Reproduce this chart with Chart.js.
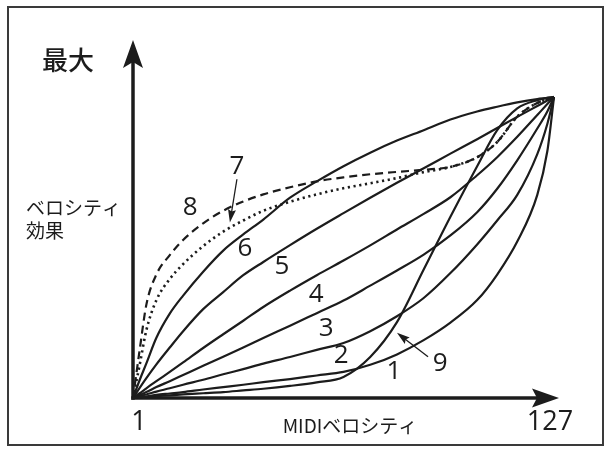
<!DOCTYPE html>
<html>
<head>
<meta charset="utf-8">
<script src="https://cdn.jsdelivr.net/npm/chart.js@4.4.0/dist/chart.umd.min.js"></script>
<style>
html,body{margin:0;padding:0;background:#fff;}
#wrap{width:607px;height:451px;position:relative;}
</style>
</head>
<body>
<div id="wrap"><canvas id="c" width="607" height="451"></canvas></div>
<script>
// MIDI velocity (input) grid
const velocity = [1, 3, 5, 8, 12, 16, 22, 28, 34, 40, 48, 56, 64, 72, 80, 88, 96, 104, 110, 116, 122, 125, 127];
// velocity effect (0 .. 127 = max) for each curve
const curve1 = [0, 0.4, 0.6, 1.3, 1.9, 2.5, 3.6, 4.6, 5.6, 6.7, 8, 9.5, 11, 14, 18.4, 24.4, 31.8, 41.3, 52.1, 66, 85.7, 104.1, 127];
const curve2 = [0, 0.8, 1.5, 2.7, 4.1, 5.6, 7.7, 10, 12.2, 14.5, 17.3, 20.3, 23.2, 28.2, 34.5, 42.2, 52.7, 64.8, 74.9, 85.7, 102.9, 115.6, 127];
const curve3 = [0, 1.3, 2.5, 4.6, 7.1, 9.7, 13.6, 17.4, 21.3, 25.3, 30.5, 35.8, 41.1, 47.4, 53.8, 60.5, 68.6, 78.4, 88.3, 100.3, 113.7, 120.9, 127];
const curve4 = [0, 2, 4.1, 7.1, 11, 15, 21.1, 26.9, 32.6, 38.4, 45.3, 51.8, 58, 64.4, 71.1, 77.7, 84.7, 94, 101.6, 110.2, 119.4, 124, 127];
const curve5 = [0, 4.3, 8.4, 14.2, 21.3, 28.2, 37.5, 44.7, 51.8, 57.4, 64.5, 71.4, 78, 84.5, 90.8, 96.9, 103.1, 109.2, 113.9, 118.6, 123.2, 125.5, 127];
const curve6 = [0, 7.6, 14.6, 25.4, 35.6, 43.2, 53.3, 62.2, 69, 75.3, 84.5, 91.4, 97.8, 103.5, 108.6, 113, 117.5, 120.9, 122.9, 124.7, 126.1, 126.6, 127];
const curve7 = [0, 14, 28.6, 41.3, 50.2, 56.5, 64.1, 70.2, 74.9, 79, 82.8, 85.9, 88.5, 90.6, 92.8, 95.3, 97.5, 101.6, 108, 118.7, 124.5, 126, 127];
const curve8 = [0, 20.3, 39.4, 52.1, 60.3, 66.7, 73.7, 79, 82.9, 85.9, 88.9, 91.4, 93.1, 94.4, 95.4, 96.3, 97.5, 101.6, 108, 118.7, 124.5, 126, 127];
const curve9 = [0, 0.3, 0.5, 0.8, 1.1, 1.5, 2, 2.5, 3.2, 3.9, 5.1, 6.6, 8.9, 17.3, 32, 54.2, 76.5, 97.8, 113, 122.2, 125.7, 126.6, 127];

const curveNames = ['1','2','3','4','5','6','7','8','9'];
const curves = [curve1, curve2, curve3, curve4, curve5, curve6, curve7, curve8, curve9];

// axis tick labels
const xTickLabels = ['1', '127'];
const xTickValues = [1, 127];
const yMaxLabel = '最大';
const xTitle = 'MIDIベロシティ';
const yTitle = ['ベロシティ', '効果'];

const INK = '#1c1c1c';
const dashFor = {'7':[2.2,3.6], '8':[8,5]};

const datasets = curves.map((arr, i) => ({
  label: curveNames[i],
  data: velocity.map((v, k) => ({x: v, y: arr[k]})),
  showLine: true,
  borderColor: INK,
  borderWidth: curveNames[i] === '7' ? 2.6 : 2.2,
  borderDash: dashFor[curveNames[i]] || [],
  pointRadius: 0,
  cubicInterpolationMode: 'monotone',
  fill: false,
  clip: false
}));

// curve number labels, placed in data units (velocity, effect)
const curveLabelPos = [
  {t:'1', v:79.1, e:11.0},
  {t:'2', v:63.3, e:17.8},
  {t:'3', v:58.8, e:29.2},
  {t:'4', v:55.8, e:43.6},
  {t:'5', v:45.6, e:55.5},
  {t:'6', v:34.5, e:63.1},
  {t:'7', v:32.1, e:97.8},
  {t:'8', v:18.1, e:80.4},
  {t:'9', v:92.9, e:14.4}
];

function arrowHead(ctx, tipX, tipY, dirX, dirY, len, half, notch){
  const px = -dirY, py = dirX;
  const bx = tipX - dirX*len, by = tipY - dirY*len;
  ctx.beginPath();
  ctx.moveTo(tipX, tipY);
  ctx.lineTo(bx + px*half, by + py*half);
  ctx.lineTo(tipX - dirX*(len-notch), tipY - dirY*(len-notch));
  ctx.lineTo(bx - px*half, by - py*half);
  ctx.closePath();
  ctx.fill();
}

function pointer(ctx, x, y, from, to){
  const a = {x: x.getPixelForValue(from[0]), y: y.getPixelForValue(from[1])};
  const b = {x: x.getPixelForValue(to[0]), y: y.getPixelForValue(to[1])};
  const dx = b.x - a.x, dy = b.y - a.y, d = Math.hypot(dx, dy);
  ctx.beginPath(); ctx.moveTo(a.x, a.y); ctx.lineTo(b.x - dx/d*8, b.y - dy/d*8); ctx.stroke();
  arrowHead(ctx, b.x, b.y, dx/d, dy/d, 13, 4, 2);
}

const decor = {
  id: 'decor',
  beforeDatasetsDraw(chart){
    const {ctx, scales:{x, y}} = chart;
    const x0 = x.getPixelForValue(1), y0 = y.getPixelForValue(0);
    ctx.save();
    // frame
    ctx.strokeStyle = '#3a3a3a';
    ctx.lineWidth = 2;
    ctx.strokeRect(8, 7, 595, 438);
    // axes
    ctx.strokeStyle = INK;
    ctx.fillStyle = INK;
    ctx.lineWidth = 3.5;
    ctx.beginPath(); ctx.moveTo(x0, y0 + 1.7); ctx.lineTo(x0, 62); ctx.stroke();
    ctx.beginPath(); ctx.moveTo(x0 - 1.7, y0); ctx.lineTo(538, y0); ctx.stroke();
    arrowHead(ctx, x0, 40, 0, -1, 28, 10, 6);
    arrowHead(ctx, 559, y0, 1, 0, 27, 9.5, 5);
    ctx.restore();
  },
  afterDatasetsDraw(chart){
    const {ctx, scales:{x, y}} = chart;
    ctx.save();
    ctx.fillStyle = INK;
    ctx.strokeStyle = INK;
    // axis texts
    ctx.textBaseline = 'middle';
    ctx.textAlign = 'center';
    ctx.font = '500 26px "Noto Sans CJK JP"';
    ctx.fillText(yMaxLabel, 68, 60);
    ctx.font = '19px "Noto Sans CJK JP"';
    ctx.textAlign = 'left';
    ctx.fillText(yTitle[0], 26, 208);
    ctx.fillText(yTitle[1], 26, 231);
    ctx.textAlign = 'center';
    ctx.font = '19px "Noto Sans CJK JP"';
    ctx.fillText(xTitle, 350, 426);
    ctx.font = '27px "Open Sans"';
    xTickValues.forEach((v, i) => {
      const px = x.getPixelForValue(v) + (i === 0 ? 6 : -4);
      ctx.fillText(xTickLabels[i], px, 422);
    });
    // curve number labels
    ctx.font = '26px "Open Sans"';
    curveLabelPos.forEach(l => {
      ctx.fillText(l.t, x.getPixelForValue(l.v), y.getPixelForValue(l.e));
    });
    // pointers
    ctx.lineWidth = 1.3;
    pointer(ctx, x, y, [32.1, 92.3], [30.0, 74.1]);
    pointer(ctx, x, y, [89.3, 17.4], [80.0, 27.5]);
    ctx.restore();
  }
};

new Chart(document.getElementById('c'), {
  type: 'scatter',
  data: { datasets },
  options: {
    responsive: false,
    animation: false,
    events: [],
    layout: { padding: { left: 133, top: 97, right: 53, bottom: 53 } },
    plugins: { legend: { display: false }, tooltip: { enabled: false } },
    scales: {
      x: { type: 'linear', min: 1, max: 127, display: false },
      y: { type: 'linear', min: 0, max: 127, display: false }
    }
  },
  plugins: [decor]
});
</script>
</body>
</html>
